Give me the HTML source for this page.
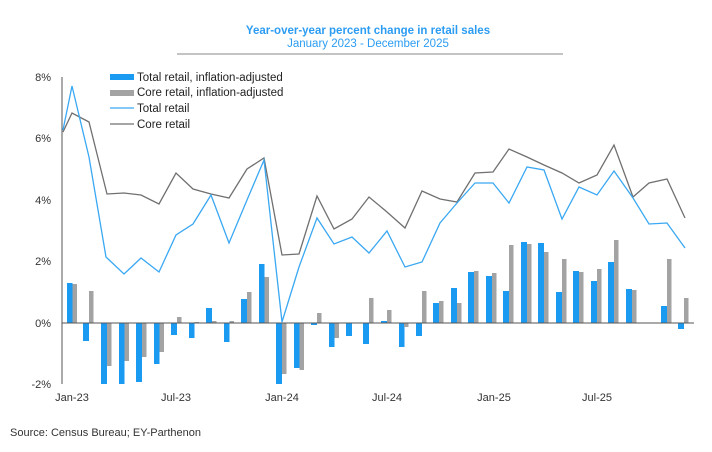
<!DOCTYPE html>
<html><head><meta charset="utf-8"><style>
html,body{margin:0;padding:0;background:#fff;}
svg{display:block;font-family:"Liberation Sans",Arial,sans-serif;}
</style></head><body>
<svg width="712" height="452" viewBox="0 0 712 452" xmlns="http://www.w3.org/2000/svg">
<rect width="712" height="452" fill="#fff"/>
<text x="368" y="34" text-anchor="middle" font-size="11.5" font-weight="bold" fill="#2b9cf2">Year-over-year percent change in retail sales</text>
<text x="368" y="47" text-anchor="middle" font-size="11.5" fill="#2b9cf2">January 2023 - December 2025</text>
<line x1="177" y1="54" x2="563" y2="54" stroke="#b0b0b0" stroke-width="1.5"/>
<g font-size="11" fill="#333" text-anchor="end">
<text x="51" y="81">8%</text><text x="51" y="142">6%</text><text x="51" y="204">4%</text>
<text x="51" y="265">2%</text><text x="51" y="327">0%</text><text x="51" y="388">-2%</text>
</g>
<g font-size="11" fill="#333" text-anchor="middle">
<text x="72" y="401">Jan-23</text><text x="176" y="401">Jul-23</text><text x="282" y="401">Jan-24</text>
<text x="387" y="401">Jul-24</text><text x="494" y="401">Jan-25</text><text x="597" y="401">Jul-25</text>
</g>
<text x="10" y="436" font-size="11" fill="#333">Source: Census Bureau; EY-Parthenon</text>
<g fill="#1a9af0">
<rect x="67" y="283" width="5.5" height="40"/><rect x="83" y="323" width="6" height="18"/>
<rect x="101" y="323" width="6" height="61"/><rect x="119" y="323" width="5.5" height="61"/>
<rect x="136" y="323" width="6" height="59"/><rect x="154" y="323" width="5.5" height="41"/>
<rect x="171" y="323" width="6" height="12"/><rect x="189" y="323" width="5.5" height="15"/>
<rect x="206" y="308" width="6" height="15"/><rect x="224" y="323" width="5.5" height="19"/>
<rect x="241" y="299" width="6" height="24"/><rect x="259" y="264" width="5.5" height="59"/>
<rect x="276" y="323" width="6" height="61"/><rect x="294" y="323" width="5.5" height="45"/>
<rect x="311" y="323" width="6" height="2"/><rect x="329" y="323" width="5.5" height="24"/>
<rect x="346" y="323" width="6" height="13"/><rect x="363" y="323" width="6" height="21"/>
<rect x="381" y="321" width="6" height="2"/><rect x="399" y="323" width="5.5" height="24"/>
<rect x="416" y="323" width="6" height="13"/><rect x="433" y="303" width="6" height="20"/>
<rect x="451" y="288" width="6" height="35"/><rect x="468" y="272" width="6" height="51"/>
<rect x="486" y="276" width="6" height="47"/><rect x="503" y="291" width="6" height="32"/>
<rect x="521" y="242" width="6" height="81"/><rect x="538" y="243" width="6" height="80"/>
<rect x="556" y="292" width="6" height="31"/><rect x="573" y="271" width="6" height="52"/>
<rect x="591" y="281" width="6" height="42"/><rect x="608" y="262" width="6" height="61"/>
<rect x="626" y="289" width="6" height="34"/><rect x="661" y="306" width="6" height="17"/>
<rect x="678" y="323" width="6" height="6"/>
</g>
<g fill="#a3a3a3">
<rect x="72.5" y="284" width="4.5" height="39"/><rect x="89" y="291" width="4.5" height="32"/>
<rect x="107" y="323" width="4.5" height="43"/><rect x="124.5" y="323" width="4.5" height="38"/>
<rect x="142" y="323" width="4.5" height="34"/><rect x="159.5" y="323" width="4.5" height="29"/>
<rect x="177" y="317" width="4.5" height="6"/><rect x="194.5" y="322" width="4.5" height="1"/>
<rect x="212" y="321" width="4.5" height="2"/><rect x="229.5" y="321" width="4.5" height="2"/>
<rect x="247" y="292" width="4.5" height="31"/><rect x="264.5" y="277" width="4.5" height="46"/>
<rect x="282" y="323" width="4.5" height="51"/><rect x="299.5" y="323" width="4.5" height="47"/>
<rect x="317" y="313" width="4.5" height="10"/><rect x="334.5" y="323" width="4.5" height="15"/>
<rect x="369" y="298" width="4.5" height="25"/><rect x="387" y="310" width="4.5" height="13"/>
<rect x="404" y="323" width="4.5" height="4"/><rect x="422" y="291" width="4.5" height="32"/>
<rect x="439" y="301" width="4.5" height="22"/><rect x="457" y="303" width="4.5" height="20"/>
<rect x="474" y="271" width="4.5" height="52"/><rect x="492" y="273" width="4.5" height="50"/>
<rect x="509" y="245" width="4.5" height="78"/><rect x="527" y="244" width="4.5" height="79"/>
<rect x="544" y="252" width="4.5" height="71"/><rect x="562" y="259" width="4.5" height="64"/>
<rect x="579" y="272" width="4.5" height="51"/><rect x="597" y="269" width="4.5" height="54"/>
<rect x="614" y="240" width="4.5" height="83"/><rect x="632" y="290" width="4.5" height="33"/>
<rect x="667" y="259" width="4.5" height="64"/><rect x="684" y="298" width="4.5" height="25"/>
</g>
<line x1="62" y1="77" x2="62" y2="384" stroke="#555" stroke-width="1"/>
<line x1="62" y1="323" x2="694" y2="323" stroke="#555" stroke-width="1"/>
<polyline fill="none" stroke="#707070" stroke-width="1.3" points="63,132 72,113 89,122 107,194 124,193 141,195 159,204 176,173 193,189 211,194 229,198 247,169 264,158 282,255 299,254 317,196 334,229 352,219 369,197 387,212 405,228 422,191 440,199 457,202 475,173 493,172 509,149 527,157 544,165 562,173 579,183 597,175 614,145 633,197 649,183 667,179 685,218"/>
<polyline fill="none" stroke="#3aa8f2" stroke-width="1.3" points="63,130 72,86 89,157 106,257 124,274 141,258 159,272 176,235 193,224 211,195 229,243 247,200 264,160 282,322 299,267 317,218 334,244 352,237 369,253 387,231 405,267 422,262 440,223 457,203 475,183 493,183 509,203 527,167 544,170 562,219 579,187 597,195 614,171 633,198 649,224 667,223 685,248"/>
<g font-size="11.5" fill="#222">
<rect x="110" y="74" width="24" height="6" fill="#1a9af0"/><text x="137" y="81">Total retail, inflation-adjusted</text>
<rect x="110" y="90" width="24" height="6" fill="#a3a3a3"/><text x="137" y="96">Core retail, inflation-adjusted</text>
<line x1="110" y1="108" x2="134" y2="108" stroke="#3aa8f2" stroke-width="1.3"/><text x="137" y="112">Total retail</text>
<line x1="110" y1="124" x2="134" y2="124" stroke="#707070" stroke-width="1.3"/><text x="137" y="128">Core retail</text>
</g>
</svg>
</body></html>
